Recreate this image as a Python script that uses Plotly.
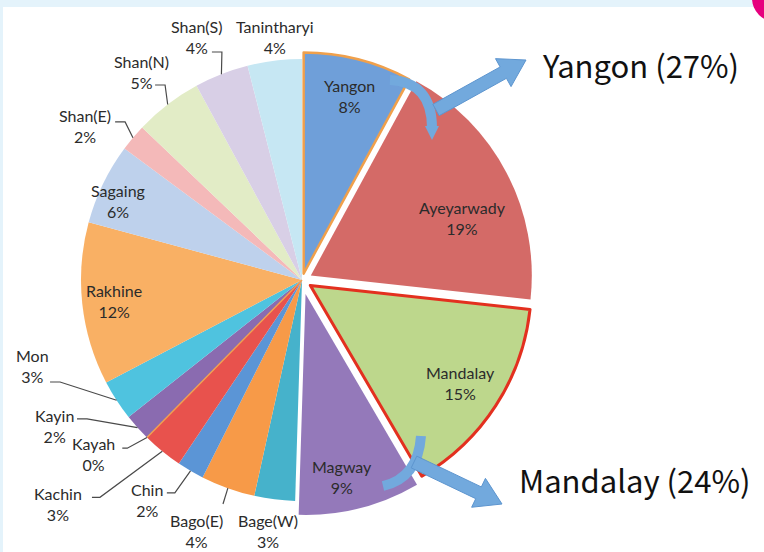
import math
import plotly.graph_objects as go

# ---------------- data ----------------
regions = ["Yangon", "Ayeyarwady", "Mandalay", "Magway", "Bage(W)", "Bago(E)", "Chin",
           "Kachin", "Kayah", "Kayin", "Mon", "Rakhine", "Sagaing", "Shan(E)", "Shan(N)",
           "Shan(S)", "Tanintharyi"]
shares = [8, 19, 15, 9, 3, 4, 2, 3, 0, 2, 3, 12, 6, 2, 5, 4, 4]
callout_names = ["Yangon", "Mandalay"]
callout_shares = [27, 24]

# ---------------- style ----------------
colors = ["#6f9fd9", "#d46a67", "#bdd78c", "#9479ba", "#46b2cb", "#f79a48", "#5b95d6",
          "#e8524d", "#f0a050", "#8a6bb0", "#4fc3df", "#f9b064", "#bed1ec", "#f4b9b9",
          "#e2ecc6", "#d8cfe6", "#c6e7f3"]
pulls = [0.03, 0.045, 0.045, 0.065, 0, 0, 0, 0, 0, 0, 0, 0, 0, 0, 0, 0, 0]
line_colors = ["#f0a04b", "white", "#e3301f", "white"] + ["white"] * 13
line_widths = [2.5, 0, 3, 0] + [0] * 13
# label placement: radius factor and angular nudge (degrees) relative to slice mid-angle
label_rf = [0.83, 0.736, 0.81, 0.846, 1.146, 1.231, 1.218, 1.50, 1.23, 1.302, 1.282,
            0.855, 0.905, 1.204, 1.19, 1.198, 1.106]
label_nudge = [0.3, 6.8, 0, 3, 0.6, 3.1, 4.9, 8.2, 5.6, 11.4, 15.3, 0, -2.6, -4.7, -0.3, -2, 0.8]
# leader lines: (dx, dy from label centre, horizontal elbow length) or None
leaders = [None, None, None, None, None, (26, -27, 0), (20, -7, 8), (34, -7, 8), (29, -6, 5),
           (23, -7, 10), (18, 16, 10), None, None, (30, -4, 10), (14, 13, 10), (15, 15, 10), None]

W, H = 764, 552
CX, CY, R = 302, 280, 221
maxpull = max(pulls)
half = R * (1 + maxpull)


def px(x):
    return x / W


def py(y):
    return 1 - y / H


fig = go.Figure()
fig.add_trace(go.Pie(
    labels=regions, values=shares, sort=False, direction="clockwise", rotation=0,
    pull=pulls, textinfo="none", hoverinfo="label+value",
    marker=dict(colors=colors, line=dict(color=line_colors, width=line_widths)),
    domain=dict(x=[px(CX - half), px(CX + half)], y=[py(CY + half), py(CY - half)]),
    showlegend=False,
))

annotations = []
shapes = []

# background decorations
shapes.append(dict(type="rect", xref="paper", yref="paper", x0=0, x1=1, y0=py(7), y1=1,
                   fillcolor="#e4f3fb", line=dict(width=0), layer="below"))
shapes.append(dict(type="rect", xref="paper", yref="paper", x0=0, x1=px(3), y0=0, y1=1,
                   fillcolor="#e4f3fb", line=dict(width=0), layer="below"))
shapes.append(dict(type="circle", xref="paper", yref="paper", x0=px(752), x1=px(800),
                   y0=py(22), y1=py(-26), fillcolor="#e6007e", line=dict(width=0)))

total = sum(shares)
cum = 0
for i, (name, v) in enumerate(zip(regions, shares)):
    start = cum / total * 360
    mid = (cum + v / 2) / total * 360
    cum += v
    rad = math.radians(mid)
    pcx = CX + pulls[i] * R * math.sin(rad)
    pcy = CY - pulls[i] * R * math.cos(rad)
    if v == 0:
        # zero-share slice drawn as a hairline boundary
        sr = math.radians(start)
        shapes.append(dict(type="line", xref="paper", yref="paper",
                           x0=px(CX), y0=py(CY), x1=px(CX + R * math.sin(sr)),
                           y1=py(CY - R * math.cos(sr)),
                           line=dict(color=colors[i], width=1.5)))
    la = math.radians(mid + label_nudge[i])
    lx = pcx + label_rf[i] * R * math.sin(la)
    ly = pcy - label_rf[i] * R * math.cos(la)
    annotations.append(dict(
        x=px(lx), y=py(ly), xref="paper", yref="paper", showarrow=False,
        text=f"{name}<br>{v}%", align="center", xanchor="center", yanchor="middle",
        font=dict(family="Lato", size=16, color="#2b2b2b")))
    if leaders[i] is not None:
        dx, dy, elbow = leaders[i]
        sx, sy = lx + dx, ly + dy
        ex = pcx + R * math.sin(rad)
        ey = pcy - R * math.cos(rad)
        mx = sx + (elbow if ex > sx else -elbow)
        path = f"M {px(sx)} {py(sy)} L {px(mx)} {py(sy)} L {px(ex)} {py(ey)}"
        shapes.append(dict(type="path", xref="paper", yref="paper", path=path,
                           line=dict(color="#4a4a4a", width=1.2)))


def arrow(x0, y0, x1, y1, w=13, hw=32, hl=26):
    L = math.hypot(x1 - x0, y1 - y0)
    ux, uy = (x1 - x0) / L, (y1 - y0) / L
    nx, ny = -uy, ux
    bx, by = x1 - ux * hl, y1 - uy * hl
    pts = [(x0 + nx * w / 2, y0 + ny * w / 2), (bx + nx * w / 2, by + ny * w / 2),
           (bx + nx * hw / 2, by + ny * hw / 2), (x1, y1),
           (bx - nx * hw / 2, by - ny * hw / 2), (bx - nx * w / 2, by - ny * w / 2),
           (x0 - nx * w / 2, y0 - ny * w / 2)]
    p = "M " + " L ".join(f"{px(a)} {py(b)}" for a, b in pts) + " Z"
    return dict(type="path", xref="paper", yref="paper", path=p,
                fillcolor="#72a9dd", line=dict(color="#5d95cf", width=1))


def curve(x0, y0, cx, cy, x1, y1, w=10):
    p = f"M {px(x0)} {py(y0)} Q {px(cx)} {py(cy)} {px(x1)} {py(y1)}"
    return dict(type="path", xref="paper", yref="paper", path=p,
                line=dict(color="#72a9dd", width=w))


# Yangon callout arrow
shapes.append(curve(390, 80, 432, 82, 432, 128))
shapes.append(dict(type="path", xref="paper", yref="paper",
                   path=f"M {px(425)} {py(126)} L {px(439)} {py(126)} L {px(432)} {py(140)} Z",
                   fillcolor="#72a9dd", line=dict(width=0)))
shapes.append(arrow(436, 110, 526, 60))
# Mandalay callout arrow
shapes.append(curve(421, 436, 418, 478, 383, 486))
shapes.append(arrow(414, 462, 502, 504))

annotations.append(dict(x=px(540), y=py(65), xref="paper", yref="paper", showarrow=False,
                        xanchor="left", yanchor="middle",
                        text=f"{callout_names[0]} ({callout_shares[0]}%)",
                        font=dict(family="Noto Sans CJK JP", size=31, color="#111111")))
annotations.append(dict(x=px(517), y=py(479), xref="paper", yref="paper", showarrow=False,
                        xanchor="left", yanchor="middle",
                        text=f"{callout_names[1]} ({callout_shares[1]}%)",
                        font=dict(family="Noto Sans CJK JP", size=31, color="#111111")))

fig.update_layout(width=W, height=H, margin=dict(l=0, r=0, t=0, b=0),
                  paper_bgcolor="white", plot_bgcolor="white",
                  annotations=annotations, shapes=shapes)
fig.write_html("out.html", config={"displayModeBar": False},
               post_script="document.body.style.margin='0';document.body.style.overflow='hidden';")
